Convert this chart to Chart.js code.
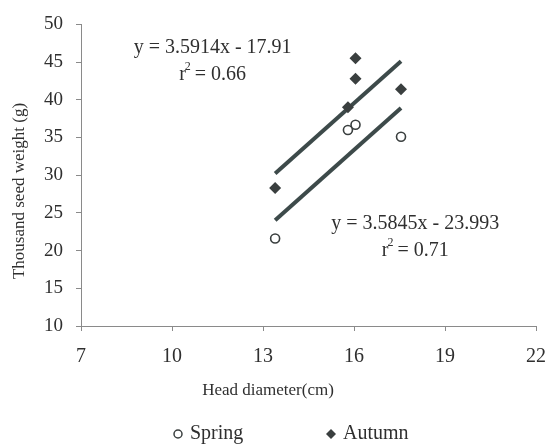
<!DOCTYPE html>
<html>
<head>
<meta charset="utf-8">
<script src="https://cdn.jsdelivr.net/npm/chart.js@4.4.1/dist/chart.umd.min.js"></script>
<style>
  html, body { margin: 0; padding: 0; background: #fff; }
  #wrap { width: 560px; height: 445px; }
</style>
</head>
<body>
<div id="wrap"><canvas id="myChart"></canvas></div>
<script>
const springX = [13.4, 15.8, 16.05, 17.55];
const springY = [21.6, 36.0, 36.7, 35.1];
const autumnX = [13.4, 15.8, 16.05, 16.05, 17.55];
const autumnY = [28.3, 39.0, 42.8, 45.5, 41.4];

// trend lines, taken from the equations printed on the chart
const autumnFit = { slope: 3.5914, intercept: -17.91, r2: "0.66" };
const springFit = { slope: 3.5845, intercept: -23.993, r2: "0.71" };
const fitRange = [13.4, 17.55];

const xTicks = [7, 10, 13, 16, 19, 22];
const yTicks = [10, 15, 20, 25, 30, 35, 40, 45, 50];

const xTitle = "Head diameter(cm)";
const yTitle = "Thousand seed weight (g)";

const FONT = "'Liberation Serif', 'Times New Roman', serif";
const TEXT = "#2f2f2f";
const AXIS = "#8a8a8a";
const LINE = "#3d4a4a";
const MARK = "#3a3f3f";

function toPoints(xs, ys) {
  return xs.map((x, i) => ({ x: x, y: ys[i] }));
}

function fitLine(fit) {
  return fitRange.map((x) => ({ x: x, y: fit.slope * x + fit.intercept }));
}

function eqText(fit) {
  const b = Math.abs(fit.intercept);
  return "y = " + fit.slope + "x - " + b;
}

// equations, axis titles and the legend
const textPlugin = {
  id: "textPlugin",
  afterDraw(chart) {
    const c = chart.ctx;
    const xs = chart.scales.x;
    const ys = chart.scales.y;
    c.save();
    c.fillStyle = TEXT;
    c.textAlign = "center";
    c.textBaseline = "middle";

    function eq(fit, dx, dy) {
      const px = xs.getPixelForValue(dx);
      const py = ys.getPixelForValue(dy);
      c.font = "20px " + FONT;
      c.fillText(eqText(fit), px, py);
      // r² line
      const rest = " = " + fit.r2;
      const w1 = c.measureText("r").width;
      const w2 = c.measureText(rest).width;
      const sx = px - (w1 + w2) / 2 - 2;
      c.textAlign = "left";
      c.fillText("r", sx, py + 27);
      c.font = "12px " + FONT;
      c.fillText("2", sx + w1 - 1, py + 19);
      c.font = "20px " + FONT;
      c.fillText(rest, sx + w1 + 4, py + 27);
      c.textAlign = "center";
    }
    eq(autumnFit, 11.34, 46.9);
    eq(springFit, 18.02, 23.6);

    // axis titles
    c.font = "17px " + FONT;
    c.fillText(xTitle, 268, 391);
    c.save();
    c.translate(20, 191);
    c.rotate(-Math.PI / 2);
    c.fillText(yTitle, 0, 0);
    c.restore();

    // legend
    const ly = 434;
    c.font = "20px " + FONT;
    c.textAlign = "left";
    c.strokeStyle = MARK;
    c.lineWidth = 1.5;
    c.beginPath();
    c.arc(178, ly, 4, 0, Math.PI * 2);
    c.stroke();
    c.fillText(chart.data.datasets[0].label, 190, ly);
    c.fillStyle = MARK;
    c.beginPath();
    c.moveTo(331, ly - 5);
    c.lineTo(336, ly);
    c.lineTo(331, ly + 5);
    c.lineTo(326, ly);
    c.closePath();
    c.fill();
    c.fillStyle = TEXT;
    c.fillText(chart.data.datasets[1].label, 343, ly);
    c.restore();
  },
};

new Chart(document.getElementById("myChart"), {
  type: "scatter",
  data: {
    datasets: [
      {
        label: "Spring",
        data: toPoints(springX, springY),
        pointStyle: "circle",
        pointRadius: 4.5,
        pointBorderWidth: 1.6,
        borderColor: MARK,
        backgroundColor: "#fff",
        order: 0,
      },
      {
        label: "Autumn",
        data: toPoints(autumnX, autumnY),
        pointStyle: "rectRot",
        pointRadius: 6,
        pointBorderWidth: 0,
        borderColor: MARK,
        backgroundColor: MARK,
        order: 0,
      },
      {
        label: "Autumn trend",
        type: "line",
        data: fitLine(autumnFit),
        showLine: true,
        borderColor: LINE,
        borderWidth: 4,
        pointRadius: 0,
        order: 1,
      },
      {
        label: "Spring trend",
        type: "line",
        data: fitLine(springFit),
        showLine: true,
        borderColor: LINE,
        borderWidth: 4,
        pointRadius: 0,
        order: 1,
      },
    ],
  },
  options: {
    responsive: true,
    maintainAspectRatio: false,
    animation: false,
    layout: { padding: { top: 18, right: 12, left: 0, bottom: 0 } },
    plugins: {
      legend: { display: false },
      tooltip: { enabled: false },
    },
    scales: {
      x: {
        type: "linear",
        min: 7,
        max: 22,
        afterBuildTicks: (s) => {
          s.ticks = xTicks.map((v) => ({ value: v }));
        },
        afterFit: (s) => {
          s.height = 119;
        },
        grid: { drawOnChartArea: false, drawTicks: true, tickLength: 5, color: AXIS },
        border: { color: AXIS, dash: [2, 2], width: 1 },
        ticks: { padding: 14, color: TEXT, font: { family: FONT, size: 20 } },
      },
      y: {
        type: "linear",
        min: 10,
        max: 50,
        afterBuildTicks: (s) => {
          s.ticks = yTicks.map((v) => ({ value: v }));
        },
        afterFit: (s) => {
          s.width = 81;
        },
        grid: { drawOnChartArea: false, drawTicks: true, tickLength: 5, color: AXIS },
        border: { color: AXIS, dash: [2, 2], width: 1 },
        ticks: { padding: 13, color: TEXT, font: { family: FONT, size: 19 } },
      },
    },
  },
  plugins: [textPlugin],
});
</script>
</body>
</html>
